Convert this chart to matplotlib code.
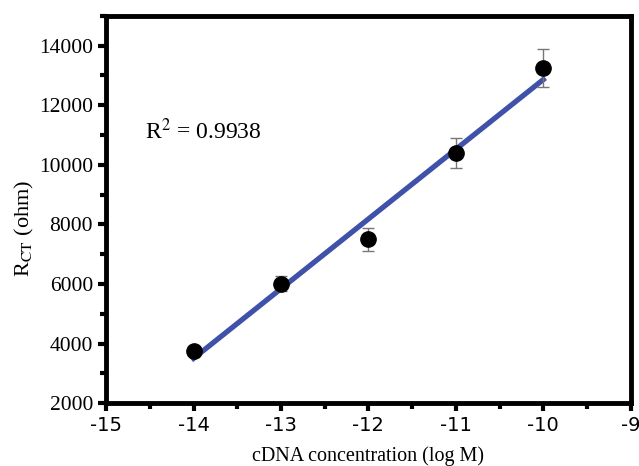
import numpy as np
import matplotlib
matplotlib.use("Agg")
import matplotlib.pyplot as plt
from matplotlib.ticker import MultipleLocator

# data
log_conc = [-14, -13, -12, -11, -10]
rct = [3750, 6000, 7500, 10400, 13250]
rct_err = [150, 250, 380, 500, 650]

plt.rcParams['font.family'] = ['Liberation Serif']
plt.rcParams['mathtext.fontset'] = 'stix'
plt.rcParams['axes.unicode_minus'] = False

fig = plt.figure(figsize=(6.39, 4.66), dpi=100)
ax = fig.add_axes([0.166, 0.135, 0.821, 0.831])

# linear fit
slope, icpt = np.polyfit(log_conc, rct, 1)
xfit = np.array([log_conc[0], log_conc[-1]])
ax.plot(xfit, slope * xfit + icpt, color='#3f51a8', lw=3.8, zorder=2)

ax.errorbar(log_conc, rct, yerr=rct_err, fmt='o', color='black', ms=11,
            ecolor='#777777', elinewidth=1, capsize=4, capthick=1, zorder=3)

ax.text(-14.55, 11130, r'R$^{2}$ = 0.9938', fontsize=17, va='center')

ax.set_xlim(-15, -9)
ax.set_ylim(2000, 15000)
ax.xaxis.set_major_locator(MultipleLocator(1))
ax.xaxis.set_minor_locator(MultipleLocator(0.5))
ax.set_yticks(range(2000, 15000, 2000))
ax.yaxis.set_minor_locator(MultipleLocator(1000))

for s in ax.spines.values():
    s.set_linewidth(3.5)
ax.tick_params(which='major', direction='out', length=6, width=3)
ax.tick_params(which='minor', direction='out', length=4, width=3)
ax.tick_params(axis='y', labelsize=15.5)
ax.tick_params(axis='x', labelsize=14)
for lab in ax.get_xticklabels():
    lab.set_family('DejaVu Sans')

ax.set_xlabel('cDNA concentration (log M)', fontsize=14.5, labelpad=8)
ax.set_ylabel(r'R$_{\mathrm{CT}}$ (ohm)', fontsize=16)
ax.yaxis.set_label_coords(-0.133, 0.45)

fig.savefig('out.png', dpi=100)
